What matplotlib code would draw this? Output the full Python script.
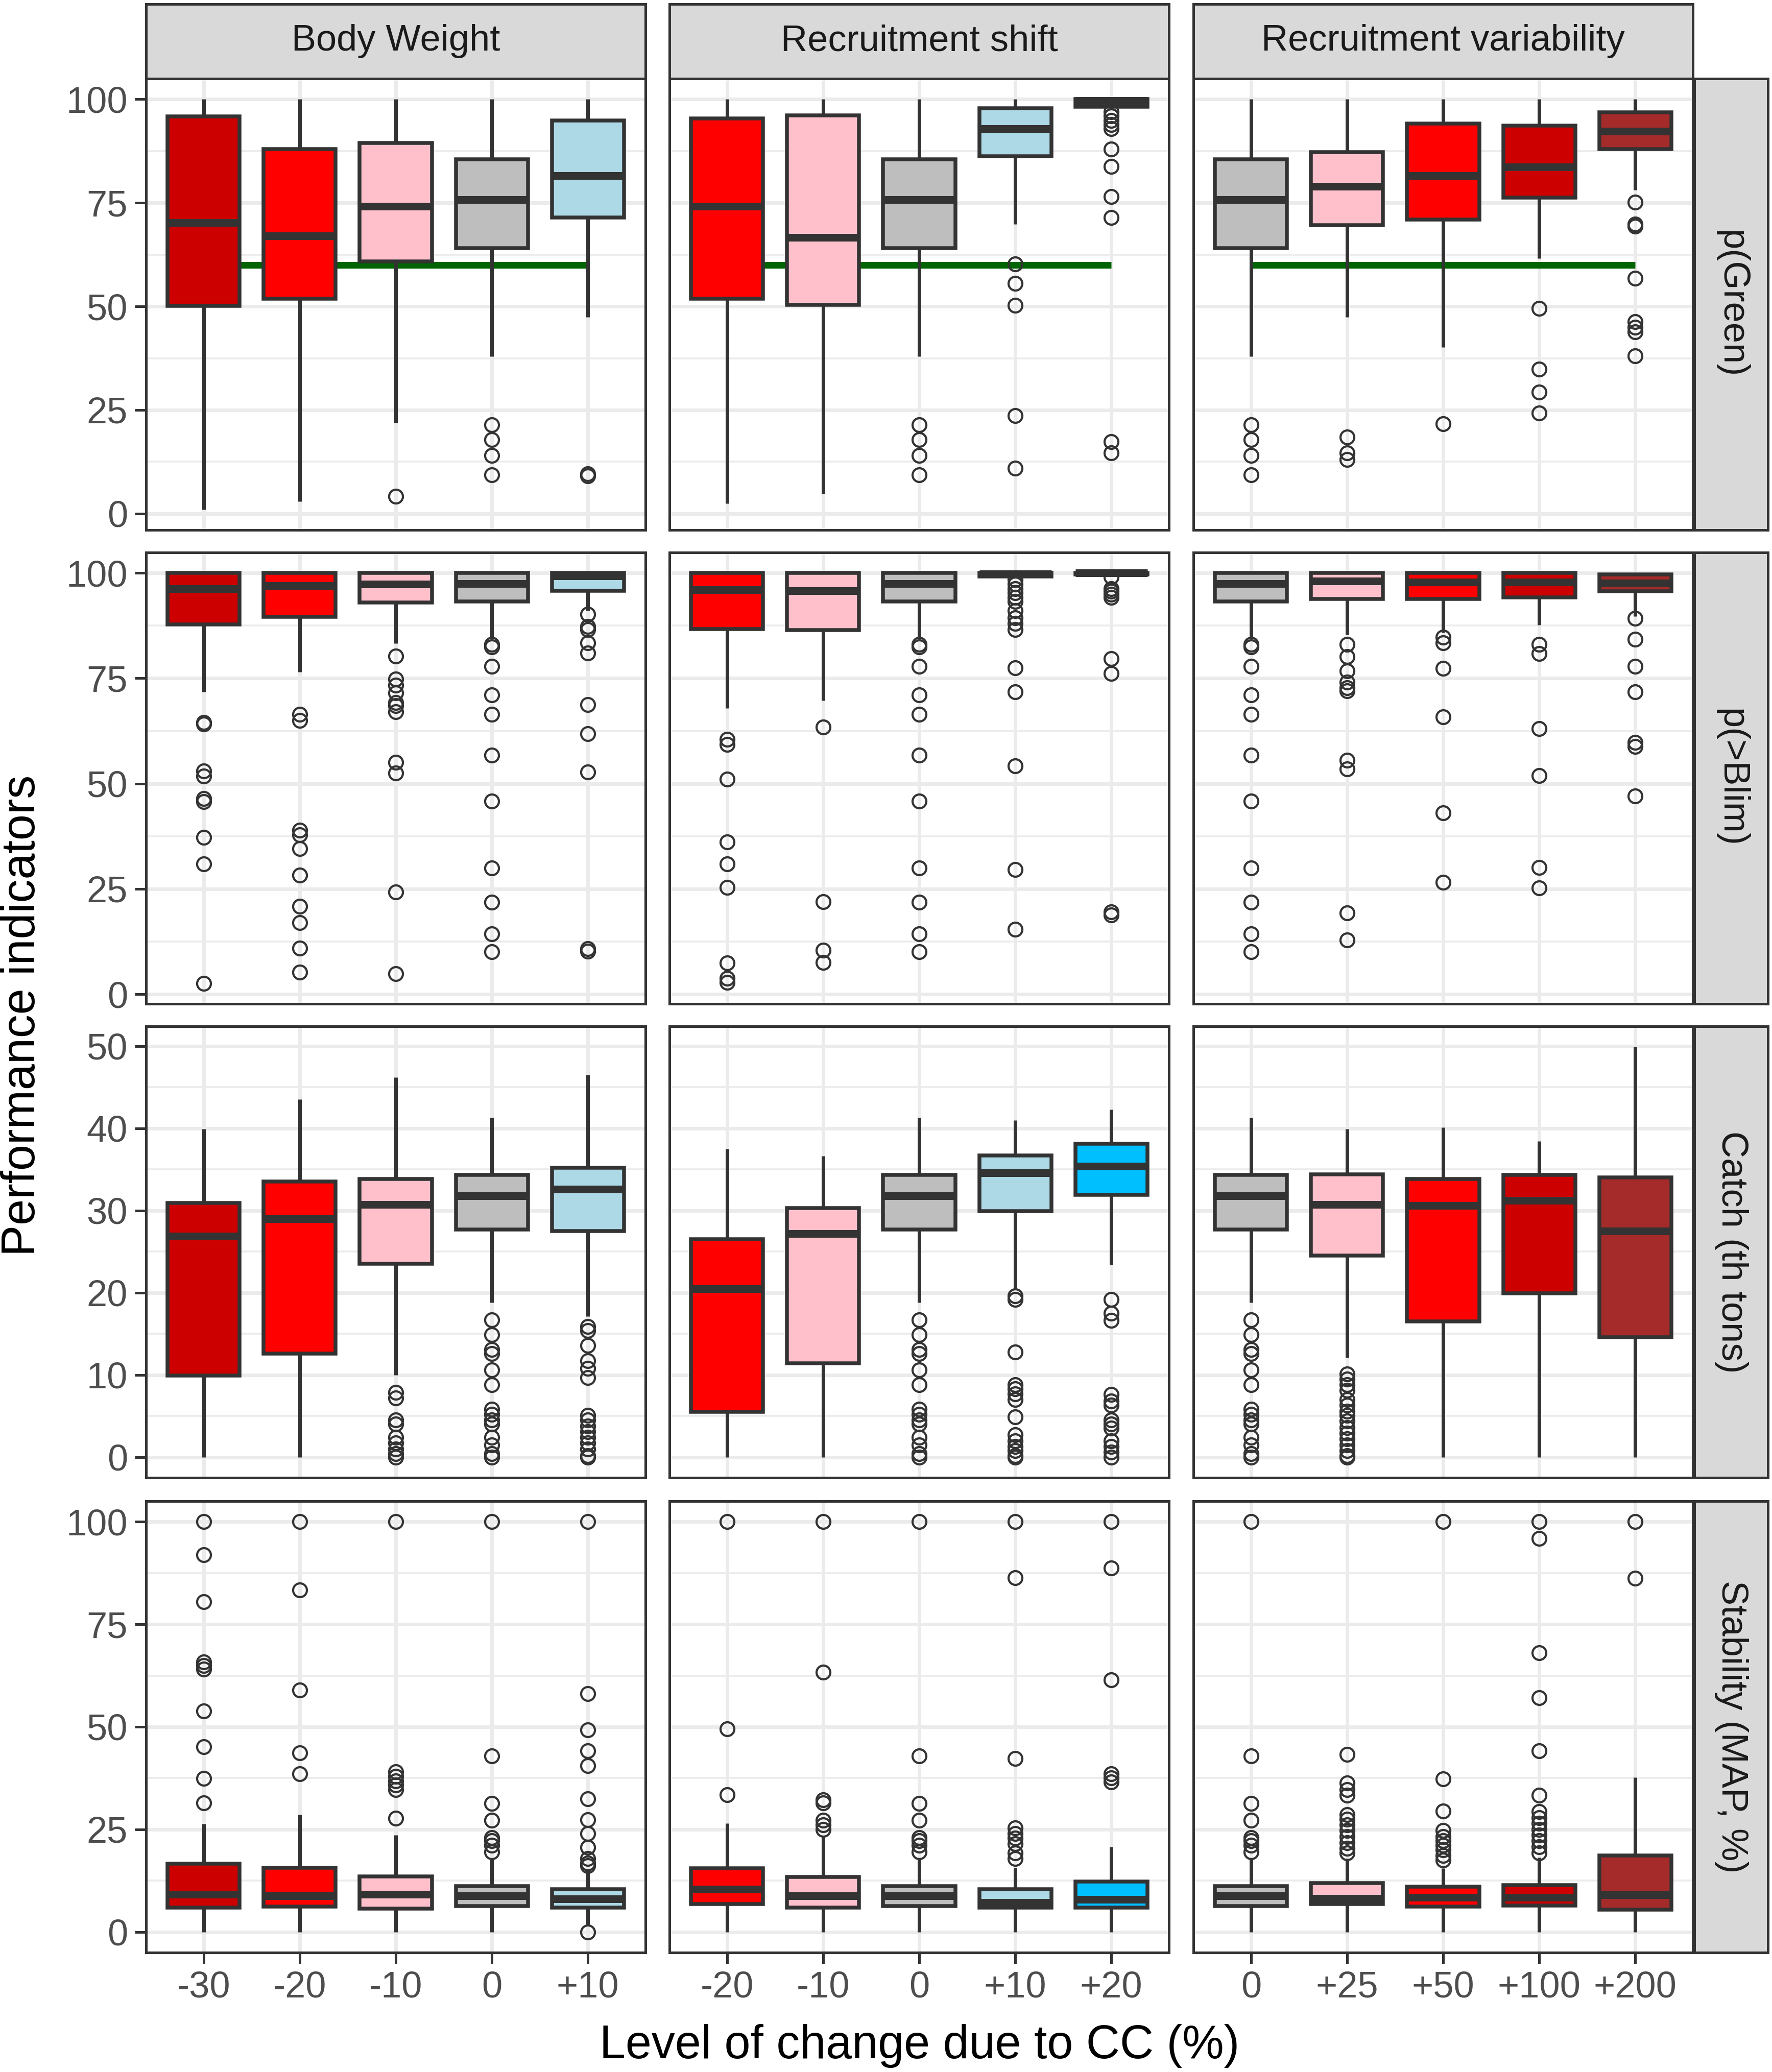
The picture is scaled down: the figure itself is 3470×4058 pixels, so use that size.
import matplotlib
matplotlib.use('Agg')
import matplotlib.pyplot as plt

plt.rcParams['font.family'] = ['Liberation Sans', 'DejaVu Sans']

# ---------------- data ----------------
col_titles = ['Body Weight', 'Recruitment shift', 'Recruitment variability']
row_titles = ['p(Green)', 'p(>Blim)', 'Catch (th tons)', 'Stability (MAP, %)']

cats_bw = ['-30', '-20', '-10', '0', '+10']
cats_rs = ['-20', '-10', '0', '+10', '+20']
cats_rv = ['0', '+25', '+50', '+100', '+200']

colors_bw = ['#CD0000', '#FF0000', '#FFC0CB', '#BEBEBE', '#ADD8E6']
colors_rs = ['#FF0000', '#FFC0CB', '#BEBEBE', '#ADD8E6', '#00BFFF']
colors_rv = ['#BEBEBE', '#FFC0CB', '#FF0000', '#CD0000', '#A52A2A']

green_target = 60

# box = [lower whisker, q1, median, q3, upper whisker]
# --- p(Green)
green_base_box = [37.9, 64.0, 75.8, 85.5, 100]
green_base_out = [21.4, 17.9, 14.0, 9.4]
green_bw_box = [[1.0, 50.1, 70.2, 95.8, 100], [3.0, 51.8, 67.0, 88.0, 100],
                [21.9, 60.9, 74.2, 89.4, 100], green_base_box, [47.4, 71.4, 81.6, 94.9, 100]]
green_bw_out = [[], [], [4.2], green_base_out, [9.6, 9.1]]
green_rs_box = [[2.5, 51.8, 74.2, 95.4, 100], [4.8, 50.4, 66.6, 96.1, 100], green_base_box,
                [69.8, 86.2, 92.9, 97.8, 100], [98.0, 98.2, 99.6, 100, 100]]
green_rs_out = [[], [], green_base_out, [60.2, 55.6, 50.2, 23.6, 10.9],
                [96.9, 95.9, 94.9, 93.9, 92.9, 87.9, 83.7, 76.5, 71.4, 17.4, 14.6]]
green_rv_box = [green_base_box, [47.4, 69.6, 79.0, 87.2, 100], [40.1, 70.9, 81.6, 94.1, 100],
                [61.6, 76.2, 83.6, 93.6, 100], [78.1, 88.0, 92.2, 96.8, 100]]
green_rv_out = [green_base_out, [18.5, 14.6, 13.0], [21.7], [49.5, 34.8, 29.3, 24.2],
                [75.1, 69.9, 69.4, 56.8, 46.3, 45.0, 43.8, 38.1]]

# --- p(>Blim)
blim_base_box = [84.5, 93.2, 97.5, 100, 100]
blim_base_out = [83.1, 82.4, 77.9, 71.1, 66.4, 56.7, 45.9, 30.0, 21.9, 14.3, 10.1]
blim_bw_box = [[71.8, 87.8, 96.3, 100, 100], [76.5, 89.6, 97.0, 100, 100],
               [83.3, 93.0, 97.4, 100, 100], blim_base_box, [91.1, 95.8, 99.3, 100, 100]]
blim_bw_out = [[64.5, 64.1, 53.0, 51.8, 46.4, 45.7, 37.3, 30.9, 2.6],
               [66.4, 65.0, 38.9, 37.9, 34.6, 28.3, 20.9, 17.0, 10.9, 5.2],
               [80.3, 74.8, 73.4, 71.6, 69.2, 68.5, 67.1, 55.1, 52.5, 24.3, 4.9],
               blim_base_out,
               [90.2, 87.3, 86.6, 83.4, 81.0, 68.8, 61.8, 52.7, 10.8, 10.2]]
blim_rs_box = [[67.9, 86.7, 96.0, 100, 100], [69.7, 86.4, 95.8, 100, 100], blim_base_box,
               [99.0, 99.2, 99.8, 100, 100], [99.5, 99.6, 100, 100, 100]]
blim_rs_out = [[60.5, 59.3, 51.1, 36.2, 30.9, 25.4, 7.4, 3.8, 2.8],
               [63.4, 22.0, 10.4, 7.6],
               blim_base_out,
               [98.4, 97.4, 96.3, 95.3, 94.2, 93.2, 91.1, 89.4, 88.0, 86.6, 77.5, 71.8, 54.2, 29.6, 15.4],
               [99.0, 96.3, 95.6, 94.9, 94.2, 79.6, 76.1, 19.5, 18.8]]
blim_rv_box = [blim_base_box, [85.4, 93.9, 98.1, 100, 100], [85.9, 93.9, 97.8, 100, 100],
               [87.6, 94.2, 97.8, 100, 100], [89.7, 95.6, 97.6, 99.7, 99.7]]
blim_rv_out = [blim_base_out,
               [83.1, 80.2, 76.7, 74.1, 72.8, 72.0, 55.6, 53.5, 19.3, 12.9],
               [84.8, 83.4, 77.4, 65.9, 43.0, 26.6],
               [83.1, 80.9, 63.1, 51.9, 30.1, 25.2],
               [89.2, 84.3, 77.9, 71.8, 59.8, 58.8, 47.1]]

# --- Catch (th tons)
catch_base_box = [18.8, 27.7, 31.8, 34.3, 41.3]
catch_base_out = [16.7, 14.9, 13.1, 12.6, 10.6, 8.8, 5.8, 5.2, 4.5, 4.0, 2.4, 1.5, 0.4, 0.0]
catch_bw_box = [[0, 9.9, 26.9, 30.9, 39.9], [0, 12.6, 29.0, 33.5, 43.5],
                [10.0, 23.5, 30.7, 33.8, 46.2], catch_base_box, [17.1, 27.5, 32.6, 35.2, 46.5]]
catch_bw_out = [[], [], [7.9, 7.2, 4.5, 4.0, 2.4, 1.7, 1.0, 0.4, 0.0], catch_base_out,
                [15.9, 15.4, 13.6, 11.7, 10.8, 9.7, 5.1, 4.5, 3.8, 3.1, 2.4, 1.7, 1.0, 0.2, 0.0]]
catch_rs_box = [[0, 5.5, 20.5, 26.5, 37.5], [0, 11.4, 27.2, 30.3, 36.6], catch_base_box,
                [20.4, 29.9, 34.6, 36.7, 41.0], [23.4, 31.9, 35.4, 38.1, 42.3]]
catch_rs_out = [[], [], catch_base_out,
                [19.6, 19.2, 12.8, 8.8, 8.3, 7.7, 7.0, 4.9, 2.7, 2.0, 1.3, 0.8, 0.2, 0.0],
                [19.2, 17.5, 16.6, 7.6, 6.8, 6.3, 4.5, 4.0, 3.5, 2.0, 1.3, 0.6, 0.0]]
catch_rv_box = [catch_base_box, [12.1, 24.5, 30.7, 34.4, 39.9], [0, 16.5, 30.6, 33.8, 40.1],
                [0, 19.9, 31.2, 34.3, 38.4], [0, 14.6, 27.5, 34.0, 49.9]]
catch_rv_out = [catch_base_out,
                [10.1, 9.5, 8.8, 8.1, 7.0, 6.3, 5.6, 5.1, 4.4, 3.6, 2.9, 2.2, 1.5, 0.8, 0.2, 0.0],
                [], [], []]

# --- Stability (MAP, %)
stab_base_box = [0, 6.3, 8.8, 11.2, 17.7]
stab_base_out = [100, 42.9, 31.3, 27.2, 23.0, 22.2, 21.1, 19.5]
stab_bw_box = [[0, 5.9, 9.2, 16.6, 26.3], [0, 6.2, 8.8, 15.6, 28.6], [0, 5.7, 9.2, 13.6, 23.6],
               stab_base_box, [1.5, 5.9, 8.1, 10.4, 15.4]]
stab_bw_out = [[100, 91.9, 80.5, 65.8, 64.9, 64.0, 53.9, 45.1, 37.4, 31.5],
               [100, 83.3, 59.0, 43.6, 38.5],
               [100, 39.0, 37.9, 36.8, 35.8, 34.7, 27.7],
               stab_base_out,
               [100, 58.1, 49.2, 44.1, 40.6, 32.5, 27.3, 24.0, 20.6, 17.9, 16.8, 16.1, 0.0]]
stab_rs_box = [[0, 6.8, 10.4, 15.5, 26.5], [0, 5.9, 8.8, 13.4, 23.2], stab_base_box,
               [0, 5.9, 7.2, 10.4, 15.7], [0, 5.9, 7.9, 12.3, 20.7]]
stab_rs_out = [[100, 49.5, 33.5],
               [100, 63.3, 32.2, 31.5, 27.2, 26.1, 25.0],
               stab_base_out,
               [100, 86.3, 42.3, 25.4, 24.0, 22.9, 21.5, 19.3, 17.9],
               [100, 88.7, 61.5, 38.6, 37.6, 36.5]]
stab_rv_box = [stab_base_box, [0, 6.8, 8.2, 11.9, 17.9], [0, 6.2, 8.4, 11.1, 15.5],
               [0, 6.4, 8.4, 11.4, 18.1], [0, 5.4, 9.1, 18.6, 37.7]]
stab_rv_out = [stab_base_out,
               [43.3, 36.3, 34.7, 33.3, 28.6, 27.5, 26.1, 24.7, 23.2, 21.8, 20.4, 19.3],
               [100, 37.3, 29.5, 24.7, 23.2, 22.2, 21.1, 20.0, 18.6, 17.5],
               [100, 95.9, 68.1, 57.1, 44.1, 33.3, 29.3, 27.9, 26.5, 25.0, 23.6, 22.2, 20.7, 19.3],
               [100, 86.2]]

y_major = [[0, 25, 50, 75, 100], [0, 25, 50, 75, 100], [0, 10, 20, 30, 40, 50], [0, 25, 50, 75, 100]]

panels_box = [[green_bw_box, green_rs_box, green_rv_box],
              [blim_bw_box, blim_rs_box, blim_rv_box],
              [catch_bw_box, catch_rs_box, catch_rv_box],
              [stab_bw_box, stab_rs_box, stab_rv_box]]
panels_out = [[green_bw_out, green_rs_out, green_rv_out],
              [blim_bw_out, blim_rs_out, blim_rv_out],
              [catch_bw_out, catch_rs_out, catch_rv_out],
              [stab_bw_out, stab_rs_out, stab_rv_out]]
col_cats = [cats_bw, cats_rs, cats_rv]
col_colors = [colors_bw, colors_rs, colors_rv]

# ---------------- layout ----------------
W, H, DPI = 3470, 4058, 100
def pt(px):
    return px * 72.0 / DPI

fig = plt.figure(figsize=(W / DPI, H / DPI), dpi=DPI)
fig.patch.set_facecolor('white')

col_left = [286, 1311, 2337]
col_w = 978
row_top = [154, 1082, 2010, 2940]
row_h = 884
strip_top, strip_h = 8, 146
rstrip_left, rstrip_w = 3318, 144

DARK = '#333333'
GRID = '#EBEBEB'
TICK_FS = 52
STRIP_FS = 52
TITLE_FS = 66

def rect(x0, y0, w, h):
    return [x0 / W, 1 - (y0 + h) / H, w / W, h / H]

for r in range(4):
    # y limits from data (ggplot-like 5% expansion)
    vals = []
    for c in range(3):
        for b, o in zip(panels_box[r][c], panels_out[r][c]):
            vals += [b[0], b[4]] + list(o)
    lo, hi = min(vals), max(vals)
    pad = 0.05 * (hi - lo)
    ylim = (lo - pad, hi + pad)
    majors = y_major[r]
    minors = [(a + b) / 2 for a, b in zip(majors[:-1], majors[1:])]

    for c in range(3):
        ax = fig.add_axes(rect(col_left[c], row_top[r], col_w, row_h))
        ax.set_facecolor('white')
        ax.set_axisbelow(True)
        boxes = panels_box[r][c]
        outs = panels_out[r][c]
        stats = [dict(whislo=b[0], q1=b[1], med=b[2], q3=b[3], whishi=b[4], fliers=o)
                 for b, o in zip(boxes, outs)]
        if r == 0:
            ax.plot([1, 5], [green_target, green_target], color='#006400',
                    lw=pt(13), solid_capstyle='butt', zorder=2.5)
        res = ax.bxp(stats, positions=range(1, 6), widths=0.75, patch_artist=True,
                     showcaps=False, zorder=3,
                     boxprops=dict(edgecolor=DARK, linewidth=pt(7.5), joinstyle='miter'),
                     medianprops=dict(color=DARK, linewidth=pt(15), solid_capstyle='butt'),
                     whiskerprops=dict(color=DARK, linewidth=pt(7), solid_capstyle='butt'),
                     flierprops=dict(marker='o', markerfacecolor='none', markeredgecolor=DARK,
                                     markersize=pt(27), markeredgewidth=pt(4.2)))
        for patch, colr in zip(res['boxes'], col_colors[c]):
            patch.set_facecolor(colr)

        ax.set_xlim(0.4, 5.6)
        ax.set_ylim(*ylim)
        ax.set_xticks(range(1, 6))
        ax.set_xticklabels(col_cats[c])
        ax.set_yticks(majors)
        ax.set_yticks(minors, minor=True)
        ax.grid(True, which='major', color=GRID, lw=pt(7))
        ax.yaxis.grid(True, which='minor', color=GRID, lw=pt(3.5))
        ax.tick_params(which='minor', length=0)
        ax.tick_params(which='major', length=pt(22), width=pt(5), color=DARK,
                       labelsize=TICK_FS, labelcolor='#4D4D4D', pad=pt(14))
        for s in ax.spines.values():
            s.set_color(DARK)
            s.set_linewidth(pt(5))
            s.set_zorder(5)
        if c != 0:
            ax.tick_params(axis='y', which='both', left=False, labelleft=False)
        if r != 3:
            ax.tick_params(axis='x', which='both', bottom=False, labelbottom=False)

        # top strips
        if r == 0:
            sax = fig.add_axes(rect(col_left[c], strip_top, col_w, strip_h))
            sax.set_facecolor('#D9D9D9')
            sax.set_xticks([]); sax.set_yticks([])
            for s in sax.spines.values():
                s.set_color(DARK); s.set_linewidth(pt(5))
            sax.text(0.5, 0.5, col_titles[c], ha='center', va='center',
                     fontsize=STRIP_FS, color='#1A1A1A', transform=sax.transAxes)
    # right strips
    rax = fig.add_axes(rect(rstrip_left, row_top[r], rstrip_w, row_h))
    rax.set_facecolor('#D9D9D9')
    rax.set_xticks([]); rax.set_yticks([])
    for s in rax.spines.values():
        s.set_color(DARK); s.set_linewidth(pt(5))
    rax.text(0.5, 0.5, row_titles[r], ha='center', va='center', rotation=-90,
             fontsize=STRIP_FS, color='#1A1A1A', transform=rax.transAxes)

fig.text(44 / W, 1 - 1989 / H, 'Performance indicators', rotation=90,
         ha='center', va='center', fontsize=TITLE_FS, color='black')
fig.text((286 + 3316) / 2 / W, 1 - 4007 / H, 'Level of change due to CC (%)',
         ha='center', va='center', fontsize=TITLE_FS, color='black')

fig.savefig('out.png', dpi=DPI, facecolor='white')
